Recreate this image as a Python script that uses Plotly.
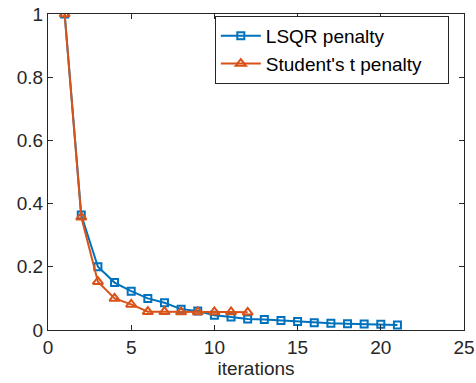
import plotly.graph_objects as go

iters_lsqr = list(range(1, 22))
lsqr = [1.0, 0.364, 0.200, 0.150, 0.123, 0.100, 0.086, 0.066, 0.060, 0.047, 0.041,
        0.035, 0.033, 0.030, 0.027, 0.023, 0.021, 0.020, 0.019, 0.018, 0.016]
iters_t = list(range(1, 13))
student_t = [1.0, 0.357, 0.153, 0.100, 0.081, 0.058, 0.058, 0.057, 0.057, 0.057, 0.057, 0.056]

series_names = ["LSQR penalty", "Student's t penalty"]
x_ticks = [0, 5, 10, 15, 20, 25]
y_ticks = [0, 0.2, 0.4, 0.6, 0.8, 1]
y_ticktext = ["0", "0.2", "0.4", "0.6", "0.8", "1"]

FONT = "Liberation Sans, Arial, sans-serif"
AX = "#262626"
FS = 19
PAD = "\u00a0" * 4

fig = go.Figure()
fig.add_trace(go.Scatter(
    x=iters_lsqr, y=lsqr, mode="lines+markers", name=series_names[0],
    line=dict(color="#0072BD", width=2),
    marker=dict(symbol="square-open", size=7, color="#0072BD", line=dict(width=2)),
))
fig.add_trace(go.Scatter(
    x=iters_t, y=student_t, mode="lines+markers", name=series_names[1] + PAD,
    line=dict(color="#D95319", width=2),
    marker=dict(symbol="triangle-up-open", size=9, color="#D95319", line=dict(width=2)),
))

axis_common = dict(
    showgrid=False, zeroline=False, showline=True, linecolor=AX, linewidth=1,
    mirror="ticks", ticks="inside", ticklen=5, tickcolor=AX, tickwidth=1,
    tickfont=dict(family=FONT, size=FS, color=AX), automargin=False,
)
fig.update_xaxes(range=[0, 25], tickvals=x_ticks, ticktext=[str(v) for v in x_ticks],
                 title=dict(text="iterations", font=dict(family=FONT, size=FS, color=AX), standoff=0),
                 **axis_common)
fig.update_yaxes(range=[0, 1], tickvals=y_ticks, ticktext=y_ticktext, **axis_common)

fig.update_layout(
    width=476, height=383,
    margin=dict(l=48, r=12, t=14, b=53),
    paper_bgcolor="white", plot_bgcolor="white",
    font=dict(family=FONT, size=FS, color="black"),
    legend=dict(x=0.401, y=0.886, xanchor="left", yanchor="middle",
                bgcolor="white", bordercolor=AX, borderwidth=1,
                font=dict(family=FONT, size=FS, color="black"),
                tracegroupgap=0, itemwidth=40),
    showlegend=True,
)

fig.write_html("out.html", config={"displayModeBar": False},
               post_script="document.body.style.margin='0';document.body.style.padding='0';")
